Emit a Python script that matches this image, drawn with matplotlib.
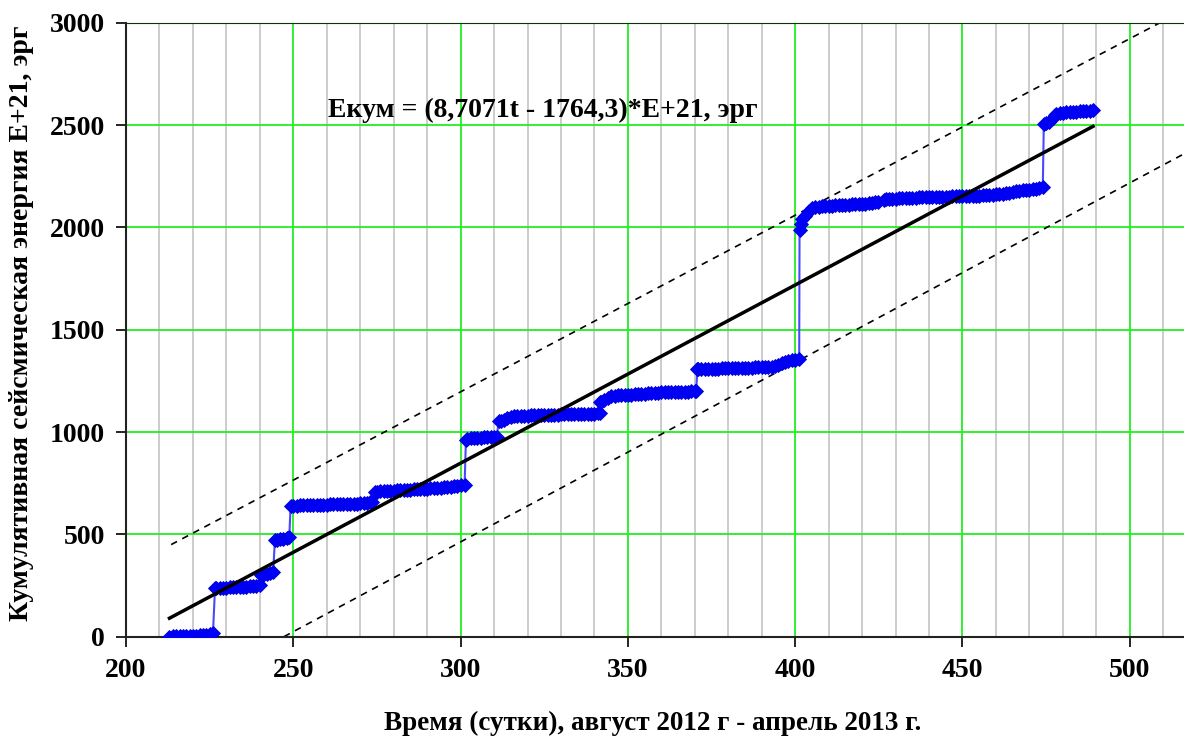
import matplotlib
matplotlib.use("Agg")
import matplotlib.pyplot as plt
from matplotlib.ticker import MultipleLocator

plt.rcParams['font.family'] = ['Liberation Serif', 'DejaVu Serif']
plt.rcParams['font.weight'] = 'bold'

# cumulative seismic energy (E+21 erg) vs time (days)
t_days = [
    213, 214, 215, 216, 217, 218, 219, 220, 221, 222, 223, 224, 225, 226,
    226.6, 227, 228, 229, 230, 231, 232, 233, 234, 235, 236, 237, 238, 239, 240,
    240.3, 241, 242, 243, 244,
    244.5, 245, 246, 247, 248, 248.8,
    249.2, 250, 251, 252, 253, 254, 255, 256, 257, 258, 259, 260, 261, 262, 263, 264, 265,
    266, 267, 268, 269, 270, 271, 272, 273, 273.6,
    274.3, 275, 276, 277, 278, 279, 280, 281, 282, 283, 284, 285, 286, 287, 288, 289, 290,
    291, 292, 293, 294, 295, 296, 297, 298, 299, 300, 301.2,
    301.6, 302, 303, 304, 305, 306, 307, 308, 309, 310, 310.8,
    311.4, 312, 313, 314, 315, 316, 317, 318, 319, 320, 321, 322, 323, 324, 325, 326, 327,
    328, 329, 330, 331, 332, 333, 334, 335, 336, 337, 338, 339, 340, 341, 341.6,
    341.8, 342, 343, 344, 345, 346, 347, 348, 349, 350, 351, 352, 353, 354, 355, 356, 357,
    358, 359, 360, 361, 362, 363, 364, 365, 366, 367, 368, 369, 370, 370.4,
    370.8, 371, 372, 373, 374, 375, 376, 377, 378, 379, 380, 381, 382, 383, 384, 385, 386,
    387, 388, 389, 390, 391, 392, 393, 394, 395, 396, 397, 398, 399, 400, 401.2,
    401.3, 401.6, 402, 403, 404, 405, 406, 407, 408, 409, 410, 411, 412, 413, 414, 415, 416,
    417, 418, 419, 420, 421, 422, 423, 424, 424.6,
    426.5, 427, 428, 429, 430, 431, 432, 433, 434, 435, 436, 437, 438, 439, 440, 441, 442,
    443, 444, 445, 446, 447, 448, 449, 450, 451, 452, 453, 454, 455, 456, 457, 458, 459,
    460, 461, 462, 463, 464, 465, 466, 467, 468, 469, 470, 471, 472, 473, 474,
    474.3, 475, 476, 477, 477.5, 478, 479, 480, 481, 482, 483, 484, 485, 486, 487, 488, 489,
]
E_cum = [
    0, 1, 1, 2, 2, 3, 4, 4, 5, 7, 8, 10, 12, 16,
    236, 237, 238, 239, 240, 241, 242, 242, 243, 244, 245, 246, 248, 250, 252,
    300, 303, 307, 312, 317,
    472, 474, 476, 479, 482, 485,
    638, 640, 641, 642, 642, 643, 643, 644, 644, 645, 645, 645, 646, 646, 647, 647, 648,
    648, 649, 649, 650, 651, 652, 654, 657, 660,
    706, 708, 710, 711, 712, 713, 714, 715, 716, 717, 718, 719, 720, 721, 722, 723, 724,
    725, 726, 727, 728, 729, 731, 733, 735, 737, 739, 742,
    962, 966, 970, 971, 972, 973, 974, 974, 975, 976, 978,
    1052, 1056, 1060, 1068, 1074, 1076, 1077, 1078, 1079, 1080, 1081, 1082, 1082, 1083, 1083, 1084, 1084,
    1085, 1085, 1086, 1086, 1087, 1087, 1088, 1088, 1088, 1089, 1089, 1089, 1090, 1091, 1094,
    1145, 1148, 1155, 1166, 1175, 1178, 1179, 1180, 1181, 1182, 1183, 1184, 1185, 1186, 1188, 1190, 1191,
    1192, 1193, 1194, 1194, 1195, 1195, 1196, 1196, 1197, 1197, 1198, 1199, 1200, 1202,
    1306, 1307, 1308, 1308, 1309, 1309, 1310, 1310, 1311, 1311, 1312, 1312, 1313, 1313, 1314, 1314, 1315,
    1315, 1316, 1316, 1317, 1317, 1318, 1319, 1321, 1328, 1335, 1342, 1347, 1350, 1353, 1356,
    1987, 2015, 2040, 2055, 2080, 2095, 2100, 2102, 2103, 2104, 2105, 2106, 2107, 2108, 2109, 2110, 2111,
    2112, 2113, 2114, 2115, 2116, 2118, 2120, 2122, 2126,
    2135, 2137, 2139, 2140, 2141, 2142, 2142, 2143, 2144, 2145, 2145, 2146, 2146, 2147, 2147, 2148, 2148,
    2149, 2149, 2150, 2150, 2151, 2151, 2152, 2152, 2153, 2153, 2154, 2154, 2155, 2156, 2158, 2159, 2160,
    2161, 2162, 2163, 2166, 2170, 2175, 2178, 2180, 2182, 2183, 2184, 2186, 2188, 2191, 2195,
    2505, 2510, 2516, 2535, 2550, 2555, 2558, 2560, 2562, 2563, 2565, 2566, 2567, 2568, 2569, 2570, 2572,
]

# linear trend: E = 8.7071 t - 1764.3
slope = 8.7071
intercept = -1764.3
trend_t = [213.0, 489.0]

# dashed envelope lines (endpoints)
upper_t = [213.5, 509.6]
upper_E = [450, 3005]
lower_t = [247.2, 516.5]
lower_E = [0, 2362]

x_ticks = [200, 250, 300, 350, 400, 450, 500]
y_ticks = [0, 500, 1000, 1500, 2000, 2500, 3000]

fig = plt.figure(figsize=(11.84, 7.40), dpi=100)
ax = fig.add_axes([0.1064, 0.1396, 0.8936, 0.8297])

ax.set_xlim(200, 516.2)
ax.set_ylim(0, 3000)

ax.xaxis.set_minor_locator(MultipleLocator(10))
ax.set_xticks(x_ticks)
ax.set_yticks(y_ticks)
ax.grid(which='minor', axis='x', color='#c8c8c8', lw=1.3, zorder=0)
ax.grid(which='major', axis='both', color='#22ee22', lw=1.3, zorder=0.5)

ax.plot(upper_t, upper_E, ls=(0, (4, 3.5)), color='black', lw=1.2, zorder=2)
ax.plot(lower_t, lower_E, ls=(0, (4, 3.5)), color='black', lw=1.2, zorder=2)

ax.plot(t_days, E_cum, color='#4848ff', lw=1.5, marker='D', ms=7.5,
        mfc='#0000ff', mec='#0000e0', mew=0.6, zorder=3)

trend_E = [slope * t + intercept for t in trend_t]
ax.plot(trend_t, trend_E, color='black', lw=2.5, zorder=4)

ax.text(260.4, 2573, 'Екум = (8,7071t - 1764,3)*E+21, эрг', fontsize=20,
        fontweight='bold', ha='left', va='center', zorder=5)

ax.spines['right'].set_visible(False)
ax.spines['top'].set_color('#103010')
ax.spines['left'].set_color('#222222')
ax.spines['bottom'].set_color('#222222')
ax.spines['left'].set_linewidth(1.5)
ax.spines['bottom'].set_linewidth(1.5)

ax.tick_params(which='major', direction='out', length=7, width=1.2,
               labelsize=20, pad=8)
ax.tick_params(which='minor', length=0)
for lab in ax.get_xticklabels() + ax.get_yticklabels():
    lab.set_fontweight('bold')

fig.text(653 / 1184, 1 - 723 / 740, 'Время (сутки), август 2012 г - апрель 2013 г.',
         fontsize=19.5, fontweight='bold', ha='center', va='center')
fig.text(22 / 1184, 1 - 323 / 740, 'Кумулятивная сейсмическая энергия E+21, эрг',
         fontsize=20, fontweight='bold', ha='center', va='center', rotation=90)

fig.savefig('out.png', dpi=100)
